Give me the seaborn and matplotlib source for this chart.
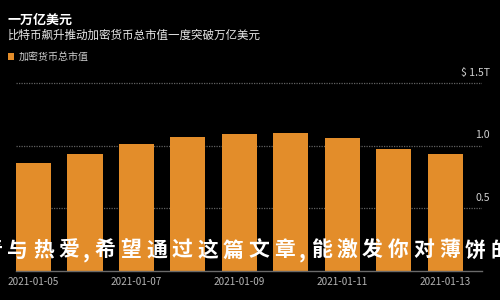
import matplotlib
matplotlib.use("Agg")
import matplotlib.pyplot as plt
import matplotlib.transforms as mtransforms
import pandas as pd
import seaborn as sns

# data (trillion USD)
dates = ['2021-01-05', '2021-01-06', '2021-01-07', '2021-01-08', '2021-01-09',
         '2021-01-10', '2021-01-11', '2021-01-12', '2021-01-13']
market_cap = [0.86, 0.93, 1.01, 1.07, 1.09, 1.10, 1.06, 0.97, 0.93]
ytick_vals = [0.5, 1.0, 1.5]
ytick_text = ['0.5', '1.0', '$ 1.5T']

title = '一万亿美元'
subtitle = '比特币飙升推动加密货币总市值一度突破万亿美元'
series_name = '加密货币总市值'
overlay = '奇与热爱,希望通过这篇文章,能激发你对薄饼的'

sns.set_theme(style='dark')
plt.rcParams['font.family'] = ['Noto Sans CJK SC', 'DejaVu Sans']

BG = '#000000'
ORANGE = '#e38d2a'
GRAY = '#b4b4b4'

df = pd.DataFrame({'date': dates, 'cap': market_cap})

fig = plt.figure(figsize=(5, 3), dpi=100, facecolor=BG)
ax = fig.add_axes([16/500, 1 - 270.5/300, 466/500, 200/300])
ax.set_facecolor(BG)

sns.barplot(df, x='date', y='cap', color=ORANGE, saturation=1, width=0.68,
            linewidth=0, label=series_name, ax=ax, zorder=2)

ax.set_xlim(-0.34, 8.71)
ax.set_ylim(0, 1.6)
ax.set_xlabel('')
ax.set_ylabel('')

# every second date
ax.set_xticks(range(0, len(dates), 2))
ax.set_xticklabels(dates[::2], color=GRAY, fontsize=7.2)
ax.tick_params(axis='x', length=0, pad=5)
ax.set_yticks([])

for v in ytick_vals:
    ax.axhline(v, color='#606060', lw=0.9, ls=(0, (1, 1)), zorder=1)
trans = mtransforms.blended_transform_factory(ax.transAxes, ax.transData)
for v, t in zip(ytick_vals, ytick_text):
    ax.text(1.017, v + 0.08, t, transform=trans, ha='right', va='center',
            color='#d0d0d0', fontsize=7.6)

ax.grid(False)
for s in ['top', 'left', 'right']:
    ax.spines[s].set_visible(False)
ax.spines['bottom'].set_color('#6a6a6a')
ax.spines['bottom'].set_linewidth(1)

leg = ax.legend(loc='upper left', bbox_to_anchor=(8/500, 1 - 52/300),
                bbox_transform=fig.transFigure, frameon=False,
                handlelength=0.6, handleheight=0.6, handletextpad=0.45,
                borderpad=0, borderaxespad=0, fontsize=7.2)
for t in leg.get_texts():
    t.set_color('#d0d0d0')

fig.text(8/500, 1 - 20/300, title, color='white', fontsize=9.4, fontweight='bold',
         ha='left', va='center')
fig.text(8/500, 1 - 35/300, subtitle, color='#e8e8e8', fontsize=8.3,
         ha='left', va='center')

# watermark text across the bars, one glyph at a time
x = -8
for ch in overlay:
    if ch == ',':
        fig.text((x - 8) / 500, 1 - 252/300, ch, color='white', fontsize=15,
                 fontweight='black', ha='center', va='center')
        x += 10.3
        continue
    fig.text(x / 500, 1 - 250/300, ch, color='white', fontsize=15,
             fontweight='black', ha='center', va='center')
    x += 25.7

fig.savefig('out.png', dpi=100, facecolor=BG)
